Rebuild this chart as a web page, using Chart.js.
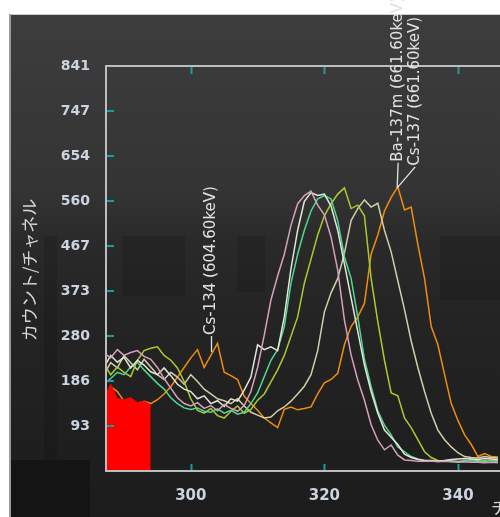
<!DOCTYPE html>
<html><head><meta charset="utf-8">
<script src="https://cdn.jsdelivr.net/npm/chart.js@4"></script>
<style>html,body{margin:0;padding:0;background:#fff;overflow:hidden}canvas{display:block}</style>
</head><body>
<canvas id="c" width="500" height="517"></canvas>
<script>
// ---- data ----
const channels = [287,288,289,290,291,292,293,294,295,296,297,298,299,300,301,302,303,304,305,306,307,308,309,310,311,312,313,314,315,316,317,318,319,320,321,322,323,324,325,326,327,328,329,330,331,332,333,334,335,336,337,338,339,340,341,342,343,344,345,346];
const pinkCounts   = [245,235,252,240,246,250,238,232,215,192,172,152,140,135,142,130,136,125,138,130,124,136,165,215,282,355,405,450,510,555,572,581,552,532,486,417,314,241,189,147,96,64,44,54,33,23,22,20,20,21,19,20,19,18,19,18,18,17,18,17];
const whiteCounts  = [215,240,226,236,214,230,220,206,200,214,198,180,170,165,150,156,140,146,134,150,145,168,195,262,252,258,250,320,420,500,560,578,572,575,550,500,430,360,290,220,165,120,85,70,55,35,28,24,22,22,21,22,24,25,26,25,24,26,25,24];
const mintCounts   = [180,192,205,200,216,226,210,196,182,170,152,140,131,128,131,124,122,129,120,126,118,122,140,162,196,230,252,300,390,450,500,540,565,572,565,520,445,400,320,232,175,125,95,75,50,40,30,25,22,21,20,22,21,20,22,21,20,22,21,20];
const limeCounts   = [222,200,216,205,196,230,250,255,258,240,230,214,186,150,126,120,130,115,110,124,135,120,128,147,160,185,210,240,280,320,390,440,490,530,555,575,588,545,552,530,400,310,230,162,156,110,90,65,40,28,22,20,21,19,20,24,22,20,23,21];
const beigeCounts  = [200,225,214,240,225,210,232,216,200,190,205,195,180,200,186,170,160,150,146,140,150,135,122,116,110,112,125,133,145,160,176,200,250,330,370,400,452,520,545,563,548,556,500,455,395,335,270,215,165,120,85,65,50,38,30,28,27,30,28,27];
const orangeCounts = [150,175,165,145,150,140,145,140,148,160,175,195,215,235,252,215,240,265,205,198,190,155,140,126,110,100,90,128,133,127,130,133,160,183,190,203,262,300,320,348,450,490,540,568,590,542,548,470,400,300,262,200,140,105,75,55,30,36,30,29];
const roiChannels = [287,288,289,290,291,292,293,294];
const roiCounts   = [150,180,150,148,152,142,145,137];

const xTickValues = [300,320,340];
const xTickLabels = ['300','320','340'];
const yTickValues = [93.44,186.89,280.33,373.78,467.22,560.67,654.11,747.56,841];
const yTickLabels = ['93','186','280','373','467','560','654','747','841'];

const annotLabels   = ['Cs-134 (604.60keV)','Ba-137m (661.60keV)','Cs-137 (661.60keV)'];
const annotChannels = [303.1,330.9,330.9];
const annotCounts   = [247,588,588];

const yTitle = 'カウント/チャネル';
const xTitle = 'チャネル';

// ---- styles ----
const seriesColors = ['#d8a0bc','#e6e6da','#50d890','#a8cc30','#d2cea8','#f08c10'];
const seriesData = [pinkCounts,whiteCounts,mintCounts,limeCounts,beigeCounts,orangeCounts];
// per-annotation offsets [textDx, textBottomDy]
const annotOffsets = [[0,-17],[1,-26],[18,-22]];

const toXY = (xs, ys) => xs.map((x,i)=>({x:x,y:ys[i]}));

const datasets = [{
  data: toXY(roiChannels, roiCounts),
  borderColor:'#ff0000', backgroundColor:'#ff0000', borderWidth:1, fill:'origin'
}];
seriesData.forEach((d,i)=>datasets.push({
  data: toXY(channels,d), borderColor:seriesColors[i], borderWidth:1.5, fill:false
}));

const bgPlugin = {
  id:'bg',
  beforeDraw(chart){
    const ctx = chart.ctx;
    ctx.save();
    ctx.fillStyle='#ffffff'; ctx.fillRect(0,0,500,517);
    const g = ctx.createLinearGradient(0,14,0,517);
    g.addColorStop(0,'#3d3d3d'); g.addColorStop(0.35,'#343434');
    g.addColorStop(0.45,'#2a2a2a'); g.addColorStop(0.6,'#242424'); g.addColorStop(1,'#1c1c1c');
    ctx.fillStyle=g; ctx.fillRect(9,14,491,503);
    // compression blocks
    ctx.fillStyle='rgba(0,0,0,0.12)';
    ctx.fillRect(122,236,63,60); ctx.fillRect(237,236,28,56); ctx.fillRect(440,236,60,64);
    ctx.fillRect(44,236,13,224);
    ctx.fillStyle='#141414'; ctx.fillRect(10,460,80,57);
    ctx.fillStyle='#cfcfcf'; ctx.fillRect(9,14,491,1);
    ctx.fillStyle='#9a9a9a'; ctx.fillRect(9,14,2,503);
    ctx.restore();
  },
  afterDraw(chart){
    const ctx = chart.ctx, a = chart.chartArea, xs = chart.scales.x, ys = chart.scales.y;
    ctx.save();
    // teal tick marks
    ctx.strokeStyle='#1c9c9c'; ctx.lineWidth=2;
    xTickValues.forEach(v=>{
      const px = Math.round(xs.getPixelForValue(v))+0.5;
      ctx.beginPath(); ctx.moveTo(px,a.bottom); ctx.lineTo(px,a.bottom-7); ctx.stroke();
      ctx.beginPath(); ctx.moveTo(px,a.top); ctx.lineTo(px,a.top+8); ctx.stroke();
    });
    yTickValues.forEach(v=>{
      const py = Math.round(ys.getPixelForValue(v));
      ctx.beginPath(); ctx.moveTo(a.left,py); ctx.lineTo(a.left+8,py); ctx.stroke();
    });
    // frame
    ctx.strokeStyle='#bdbdbd'; ctx.lineWidth=2;
    ctx.beginPath();
    ctx.moveTo(a.right+2,a.top); ctx.lineTo(a.left,a.top); ctx.lineTo(a.left,a.bottom); ctx.lineTo(a.right+2,a.bottom);
    ctx.stroke();
    // annotations
    ctx.font='15px "DejaVu Sans"';
    ctx.fillStyle='#e2e2e2'; ctx.strokeStyle='#e2e2e2'; ctx.lineWidth=1.3;
    annotLabels.forEach((t,i)=>{
      const px = xs.getPixelForValue(annotChannels[i]);
      const py = ys.getPixelForValue(annotCounts[i]);
      const tx = px + annotOffsets[i][0], ty = py + annotOffsets[i][1];
      ctx.beginPath(); ctx.moveTo(px,py); ctx.lineTo(tx,ty+1); ctx.stroke();
      ctx.save(); ctx.translate(tx,ty); ctx.rotate(-Math.PI/2);
      ctx.textAlign='left'; ctx.textBaseline='middle'; ctx.fillText(t,0,0);
      ctx.restore();
    });
    // axis titles
    ctx.fillStyle='#d6d6d6';
    ctx.font='17px "Noto Sans CJK JP"';
    ctx.save(); ctx.translate(30,270); ctx.rotate(-Math.PI/2);
    ctx.textAlign='center'; ctx.textBaseline='middle'; ctx.fillText(yTitle,0,0);
    ctx.restore();
    ctx.textAlign='left'; ctx.textBaseline='alphabetic';
    ctx.fillText(xTitle,491,514);
    ctx.restore();
  }
};

new Chart(document.getElementById('c'), {
  type:'line',
  data:{datasets},
  plugins:[bgPlugin],
  options:{
    responsive:false, animation:false, devicePixelRatio:1,
    layout:{padding:{top:66,left:0,right:0,bottom:0}},
    plugins:{legend:{display:false}, tooltip:{enabled:false}},
    elements:{point:{radius:0}, line:{tension:0}},
    scales:{
      x:{type:'linear', min:287.3, max:346.3,
        grid:{display:false}, border:{display:false},
        afterBuildTicks:s=>{s.ticks = xTickValues.map(v=>({value:v}));},
        afterFit:s=>{s.height=46;},
        ticks:{color:'#ccd4e2', font:{family:'DejaVu Sans', size:15, weight:'bold'}, padding:8, maxRotation:0, autoSkip:false,
          callback:(v,i)=>xTickLabels[i]}},
      y:{min:0, max:841,
        grid:{display:false}, border:{display:false},
        afterBuildTicks:s=>{s.ticks = yTickValues.map(v=>({value:v}));},
        afterFit:s=>{s.width=106;},
        ticks:{color:'#ccd4e2', font:{family:'DejaVu Sans', size:14, weight:'bold'}, padding:8, autoSkip:false,
          callback:(v,i)=>yTickLabels[i]}}
    }
  }
});
</script>
</body></html>
